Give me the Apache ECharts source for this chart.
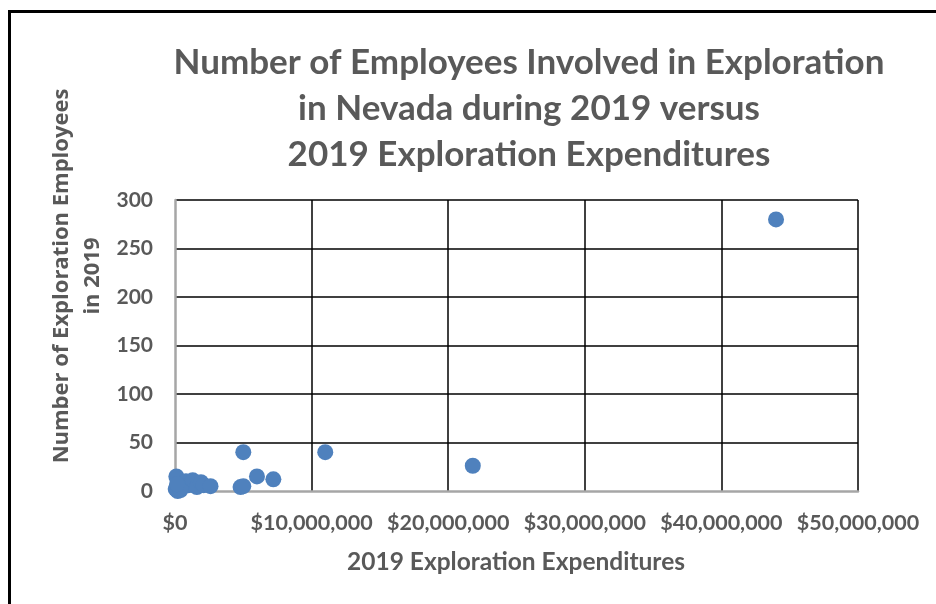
<!DOCTYPE html>
<html><head><meta charset="utf-8">
<script src="https://cdn.jsdelivr.net/npm/echarts@6/dist/echarts.min.js"></script>
<style>html,body{margin:0;padding:0;background:#fff}#c{width:936px;height:604px}</style>
</head><body><div id="c"></div>
<script>
var titleLines = ['Number of Employees Involved in Exploration', 'in Nevada during 2019 versus', '2019 Exploration Expenditures'];
var xAxisTitle = '2019 Exploration Expenditures';
var yAxisTitleLines = ['Number of Exploration Employees', 'in 2019'];
var expenditures = [100000, 50000, 200000, 300000, 500000, 800000, 1000000, 1300000, 1600000, 1900000, 2100000, 2600000, 400000, 150000, 4800000, 5000000, 5000000, 6000000, 7200000, 11000000, 21800000, 44000000];
var employees =    [15,     2,     0,      5,      8,      10,     6,       11,      4,       9,       6,       5,       1,      7,      4,       5,       40,      15,      12,      40,       26,       280];
var xTicks = {min: 0, max: 50000000, interval: 10000000};
var yTicks = {min: 0, max: 300, interval: 50};

var pts = expenditures.map(function (v, i) { return [v, employees[i]]; });
var txt = '#595959';
var chart = echarts.init(document.getElementById('c'));
chart.setOption({
  animation: false,
  grid: {left: 175, right: 78, top: 200, bottom: 113},
  xAxis: {
    type: 'value', min: xTicks.min, max: xTicks.max, interval: xTicks.interval,
    axisLine: {show: true, lineStyle: {color: '#a6a6a6', width: 2.5}},
    axisTick: {show: false},
    splitLine: {show: true, showMinLine: false, lineStyle: {color: '#000', width: 1.5}},
    axisLabel: {color: txt, fontFamily: 'Lato', fontWeight: 'bold', fontSize: 21.5, margin: 21,
      formatter: function (v) { return '$' + v.toLocaleString('en-US'); }}
  },
  yAxis: {
    type: 'value', min: yTicks.min, max: yTicks.max, interval: yTicks.interval,
    axisLine: {show: true, lineStyle: {color: '#a6a6a6', width: 2.5}},
    axisTick: {show: false},
    splitLine: {show: true, showMinLine: false, lineStyle: {color: '#000', width: 1.5}},
    axisLabel: {color: txt, fontFamily: 'Lato', fontWeight: 'bold', fontSize: 21, margin: 22}
  },
  series: [{
    type: 'scatter', data: pts, symbolSize: 16,
    itemStyle: {color: '#4f81bd', opacity: 1}
  }],
  graphic: [
    {type: 'rect', shape: {x: 9.5, y: 11.5, width: 1000, height: 1000}, style: {fill: 'none', stroke: '#000', lineWidth: 3}, silent: true},
    {type: 'text', x: 529, y: 40, style: {text: titleLines.join('\n'), fill: txt, font: 'bold 35px Lato', textAlign: 'center', lineHeight: 46, align: 'center'}},
    {type: 'text', x: 516, y: 562, style: {text: xAxisTitle, fill: txt, font: 'bold 24.5px Lato', textAlign: 'center', textVerticalAlign: 'middle', align: 'center', verticalAlign: 'middle'}},
    {type: 'text', x: 77, y: 276, rotation: Math.PI / 2, style: {text: yAxisTitleLines.join('\n'), fill: txt, font: 'bold 22px "Open Sans"', textAlign: 'center', textVerticalAlign: 'middle', align: 'center', verticalAlign: 'middle', lineHeight: 31}}
  ]
});
</script></body></html>
